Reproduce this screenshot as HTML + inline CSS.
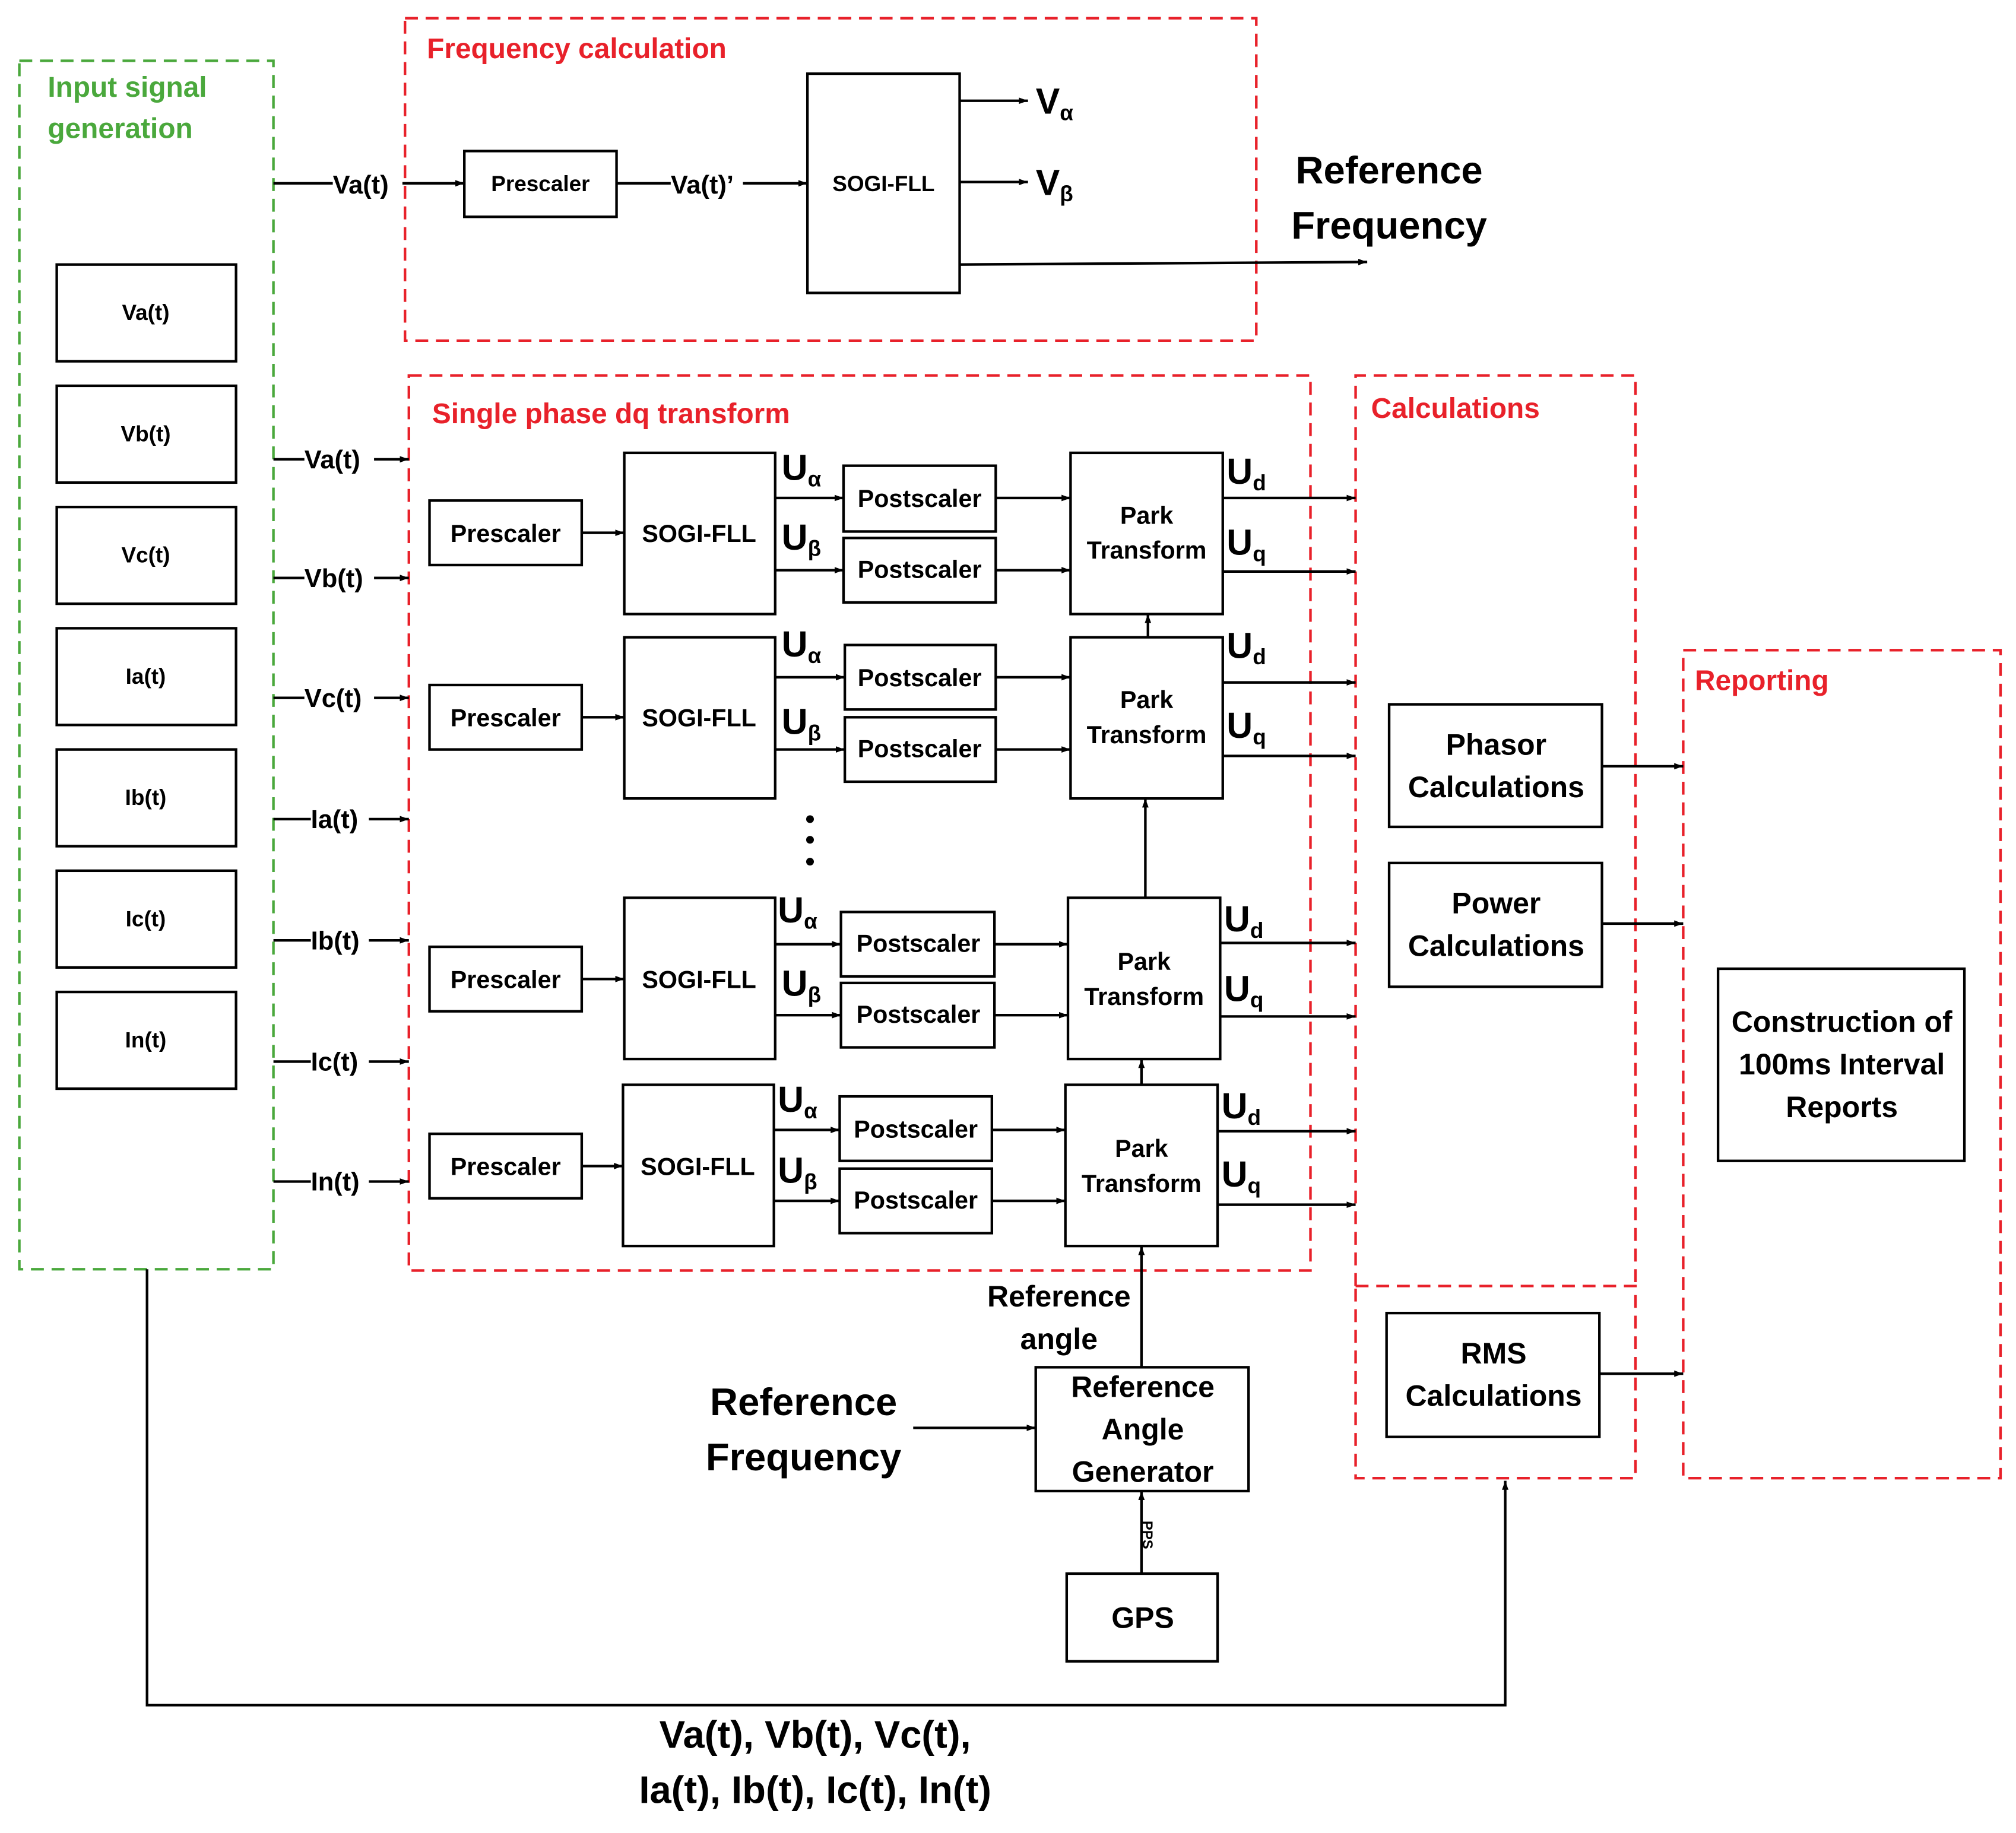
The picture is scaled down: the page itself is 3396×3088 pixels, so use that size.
<!DOCTYPE html>
<html><head><meta charset="utf-8"><style>
html,body{margin:0;padding:0;background:#fff}
svg{display:block}
text{font-family:"Liberation Sans",sans-serif;font-weight:bold;fill:#000}
</style></head><body>
<svg width="3396" height="3088" viewBox="0 0 1563 1421" xmlns="http://www.w3.org/2000/svg">
<defs>
<marker id="a" markerWidth="8" markerHeight="8" refX="7" refY="4" orient="auto" markerUnits="userSpaceOnUse"><path d="M0,1.5 L7,4 L0,6.5 z" fill="#000"/></marker>
</defs>
<rect width="1563" height="1421" fill="#fff"/>
<g fill="none" stroke-width="2" stroke-dasharray="10,6">
<rect x="15" y="47" width="197" height="937" stroke="#4aa83c"/>
<rect x="314" y="14" width="660" height="250" stroke="#e8212a"/>
<rect x="317" y="291" width="699" height="694" stroke="#e8212a"/>
<polyline points="1051,997 1051,291 1268,291 1268,997" stroke="#e8212a"/>
<rect x="1051" y="997" width="217" height="149" stroke="#e8212a"/>
<rect x="1305" y="504" width="246" height="642" stroke="#e8212a"/>
</g>
<g font-size="22"><text x="37" y="75" style="fill:#4aa83c">Input signal</text><text x="37" y="107" style="fill:#4aa83c">generation</text></g>
<g font-size="22"><text x="331" y="45" style="fill:#e8212a">Frequency calculation</text><text x="335" y="328" style="fill:#e8212a">Single phase dq transform</text><text x="1063" y="324" style="fill:#e8212a">Calculations</text><text x="1314" y="535" style="fill:#e8212a">Reporting</text></g>

<g fill="#fff" stroke="#000" stroke-width="2">
<rect x="44" y="205" width="139" height="75"/><rect x="44" y="299" width="139" height="75"/><rect x="44" y="393" width="139" height="75"/><rect x="44" y="487" width="139" height="75"/><rect x="44" y="581" width="139" height="75"/><rect x="44" y="675" width="139" height="75"/><rect x="44" y="769" width="139" height="75"/>
<rect x="360" y="117" width="118" height="51"/><rect x="626" y="57" width="118" height="170"/>
<rect x="333" y="388" width="118" height="50"/><rect x="484" y="351" width="117" height="125"/><rect x="654" y="361" width="118" height="51"/><rect x="654" y="417" width="118" height="50"/><rect x="830" y="351" width="118" height="125"/>
<rect x="333" y="531" width="118" height="50"/><rect x="484" y="494" width="117" height="125"/><rect x="655" y="500" width="117" height="50"/><rect x="655" y="556" width="117" height="50"/><rect x="830" y="494" width="118" height="125"/>
<rect x="333" y="734" width="118" height="50"/><rect x="484" y="696" width="117" height="125"/><rect x="652" y="707" width="119" height="50"/><rect x="652" y="762" width="119" height="50"/><rect x="828" y="696" width="118" height="125"/>
<rect x="333" y="879" width="118" height="50"/><rect x="483" y="841" width="117" height="125"/><rect x="651" y="850" width="118" height="50"/><rect x="651" y="906" width="118" height="50"/><rect x="826" y="841" width="118" height="125"/>
<rect x="1077" y="546" width="165" height="95"/><rect x="1077" y="669" width="165" height="96"/><rect x="1075" y="1018" width="165" height="96"/>
<rect x="1332" y="751" width="191" height="149"/>
<rect x="803" y="1060" width="165" height="96"/><rect x="827" y="1220" width="117" height="68"/>
</g>

<g font-size="17" text-anchor="middle">
<text x="113" y="248">Va(t)</text><text x="113" y="342">Vb(t)</text><text x="113" y="436">Vc(t)</text><text x="113" y="530">Ia(t)</text><text x="113" y="624">Ib(t)</text><text x="113" y="718">Ic(t)</text><text x="113" y="812">In(t)</text>
<text x="419" y="148">Prescaler</text><text x="685" y="148">SOGI-FLL</text>
</g>
<g font-size="19" text-anchor="middle">
<text x="392" y="420">Prescaler</text><text x="542" y="420">SOGI-FLL</text><text x="713" y="393">Postscaler</text><text x="713" y="448">Postscaler</text><text x="889" y="406">Park</text><text x="889" y="433">Transform</text>
<text x="392" y="563">Prescaler</text><text x="542" y="563">SOGI-FLL</text><text x="713" y="532">Postscaler</text><text x="713" y="587">Postscaler</text><text x="889" y="549">Park</text><text x="889" y="576">Transform</text>
<text x="392" y="766">Prescaler</text><text x="542" y="766">SOGI-FLL</text><text x="712" y="738">Postscaler</text><text x="712" y="793">Postscaler</text><text x="887" y="752">Park</text><text x="887" y="779">Transform</text>
<text x="392" y="911">Prescaler</text><text x="541" y="911">SOGI-FLL</text><text x="710" y="882">Postscaler</text><text x="710" y="937">Postscaler</text><text x="885" y="897">Park</text><text x="885" y="924">Transform</text>
</g>
<g font-size="23" text-anchor="middle">
<text x="1160" y="585">Phasor</text><text x="1160" y="618">Calculations</text>
<text x="1160" y="708">Power</text><text x="1160" y="741">Calculations</text>
<text x="1158" y="1057">RMS</text><text x="1158" y="1090">Calculations</text>
<text x="1428" y="800">Construction of</text><text x="1428" y="833">100ms Interval</text><text x="1428" y="866">Reports</text>
<text x="886" y="1083">Reference</text><text x="886" y="1116">Angle</text><text x="886" y="1149">Generator</text>
<text x="886" y="1262">GPS</text>
<text x="821" y="1013">Reference</text><text x="821" y="1046">angle</text>
</g>
<g font-size="30" text-anchor="middle">
<text x="1077" y="142">Reference</text><text x="1077" y="185">Frequency</text>
<text x="623" y="1097">Reference</text><text x="623" y="1140">Frequency</text>
<text x="632" y="1355">Va(t), Vb(t), Vc(t),</text><text x="632" y="1398">Ia(t), Ib(t), Ic(t), In(t)</text>
</g>
<text x="886" y="1190" font-size="11" transform="rotate(90 886 1190)" text-anchor="middle">PPS</text>

<g stroke="#000" stroke-width="2" fill="none">
<line x1="212" y1="142" x2="258" y2="142"/><line x1="312" y1="142" x2="360" y2="142" marker-end="url(#a)"/>
<line x1="478" y1="142" x2="520" y2="142"/><line x1="576" y1="142" x2="626" y2="142" marker-end="url(#a)"/>
<line x1="744" y1="78" x2="797" y2="78" marker-end="url(#a)"/><line x1="744" y1="141" x2="797" y2="141" marker-end="url(#a)"/>
<line x1="744" y1="205" x2="1060" y2="203" marker-end="url(#a)"/>
<polyline points="114,984 114,1322 1167,1322 1167,1148" marker-end="url(#a)"/>
<line x1="708" y1="1107" x2="803" y2="1107" marker-end="url(#a)"/>
<line x1="885" y1="1060" x2="885" y2="966" marker-end="url(#a)"/>
<line x1="885" y1="1220" x2="885" y2="1156" marker-end="url(#a)"/>
<line x1="885" y1="841" x2="885" y2="821" marker-end="url(#a)"/>
<line x1="888" y1="696" x2="888" y2="619" marker-end="url(#a)"/>
<line x1="890" y1="494" x2="890" y2="476" marker-end="url(#a)"/>
<line x1="1242" y1="594" x2="1305" y2="594" marker-end="url(#a)"/>
<line x1="1242" y1="716" x2="1305" y2="716" marker-end="url(#a)"/>
<line x1="1240" y1="1065" x2="1305" y2="1065" marker-end="url(#a)"/>
</g>
<g stroke="#000" stroke-width="2" fill="none">
<line x1="212" y1="356" x2="236" y2="356"/><line x1="290" y1="356" x2="317" y2="356" marker-end="url(#a)"/>
<line x1="212" y1="448" x2="236" y2="448"/><line x1="290" y1="448" x2="317" y2="448" marker-end="url(#a)"/>
<line x1="212" y1="541" x2="236" y2="541"/><line x1="290" y1="541" x2="317" y2="541" marker-end="url(#a)"/>
<line x1="212" y1="635" x2="241" y2="635"/><line x1="286" y1="635" x2="317" y2="635" marker-end="url(#a)"/>
<line x1="212" y1="729" x2="241" y2="729"/><line x1="286" y1="729" x2="317" y2="729" marker-end="url(#a)"/>
<line x1="212" y1="823" x2="241" y2="823"/><line x1="286" y1="823" x2="317" y2="823" marker-end="url(#a)"/>
<line x1="212" y1="916" x2="241" y2="916"/><line x1="286" y1="916" x2="317" y2="916" marker-end="url(#a)"/>
<line x1="451" y1="413" x2="484" y2="413" marker-end="url(#a)"/>
<line x1="601" y1="386" x2="654" y2="386" marker-end="url(#a)"/><line x1="601" y1="442" x2="654" y2="442" marker-end="url(#a)"/>
<line x1="772" y1="386" x2="830" y2="386" marker-end="url(#a)"/><line x1="772" y1="442" x2="830" y2="442" marker-end="url(#a)"/>
<line x1="948" y1="386" x2="1051" y2="386" marker-end="url(#a)"/><line x1="948" y1="443" x2="1051" y2="443" marker-end="url(#a)"/>
<line x1="451" y1="556" x2="484" y2="556" marker-end="url(#a)"/>
<line x1="601" y1="525" x2="655" y2="525" marker-end="url(#a)"/><line x1="601" y1="581" x2="655" y2="581" marker-end="url(#a)"/>
<line x1="772" y1="525" x2="830" y2="525" marker-end="url(#a)"/><line x1="772" y1="581" x2="830" y2="581" marker-end="url(#a)"/>
<line x1="948" y1="529" x2="1051" y2="529" marker-end="url(#a)"/><line x1="948" y1="586" x2="1051" y2="586" marker-end="url(#a)"/>
<line x1="451" y1="759" x2="484" y2="759" marker-end="url(#a)"/>
<line x1="601" y1="732" x2="652" y2="732" marker-end="url(#a)"/><line x1="601" y1="787" x2="652" y2="787" marker-end="url(#a)"/>
<line x1="771" y1="732" x2="828" y2="732" marker-end="url(#a)"/><line x1="771" y1="787" x2="828" y2="787" marker-end="url(#a)"/>
<line x1="946" y1="731" x2="1051" y2="731" marker-end="url(#a)"/><line x1="946" y1="788" x2="1051" y2="788" marker-end="url(#a)"/>
<line x1="451" y1="904" x2="483" y2="904" marker-end="url(#a)"/>
<line x1="600" y1="876" x2="651" y2="876" marker-end="url(#a)"/><line x1="600" y1="931" x2="651" y2="931" marker-end="url(#a)"/>
<line x1="769" y1="876" x2="826" y2="876" marker-end="url(#a)"/><line x1="769" y1="931" x2="826" y2="931" marker-end="url(#a)"/>
<line x1="944" y1="877" x2="1051" y2="877" marker-end="url(#a)"/><line x1="944" y1="934" x2="1051" y2="934" marker-end="url(#a)"/>
</g>
<g fill="#000"><circle cx="628" cy="635" r="3"/><circle cx="628" cy="651" r="3"/><circle cx="628" cy="668" r="3"/></g>
<g font-size="20">
<text x="258" y="150">Va(t)</text><text x="520" y="150">Va(t)’</text>
<text x="236" y="363">Va(t)</text><text x="236" y="455">Vb(t)</text><text x="236" y="548">Vc(t)</text><text x="241" y="642">Ia(t)</text><text x="241" y="736">Ib(t)</text><text x="241" y="830">Ic(t)</text><text x="241" y="923">In(t)</text>
</g>
<g font-size="28">
<text x="803" y="88">V<tspan font-size="17" dy="5">α</tspan></text>
<text x="803" y="151">V<tspan font-size="17" dy="5">β</tspan></text>
<text x="606" y="372">U<tspan font-size="17" dy="5">α</tspan></text><text x="606" y="426">U<tspan font-size="17" dy="5">β</tspan></text>
<text x="606" y="509">U<tspan font-size="17" dy="5">α</tspan></text><text x="606" y="569">U<tspan font-size="17" dy="5">β</tspan></text>
<text x="603" y="715">U<tspan font-size="17" dy="5">α</tspan></text><text x="606" y="772">U<tspan font-size="17" dy="5">β</tspan></text>
<text x="603" y="862">U<tspan font-size="17" dy="5">α</tspan></text><text x="603" y="917">U<tspan font-size="17" dy="5">β</tspan></text>
<text x="951" y="375">U<tspan font-size="17" dy="5">d</tspan></text><text x="951" y="430">U<tspan font-size="17" dy="5">q</tspan></text>
<text x="951" y="510">U<tspan font-size="17" dy="5">d</tspan></text><text x="951" y="572">U<tspan font-size="17" dy="5">q</tspan></text>
<text x="949" y="722">U<tspan font-size="17" dy="5">d</tspan></text><text x="949" y="776">U<tspan font-size="17" dy="5">q</tspan></text>
<text x="947" y="867">U<tspan font-size="17" dy="5">d</tspan></text><text x="947" y="920">U<tspan font-size="17" dy="5">q</tspan></text>
</g>
</svg>
</body></html>
